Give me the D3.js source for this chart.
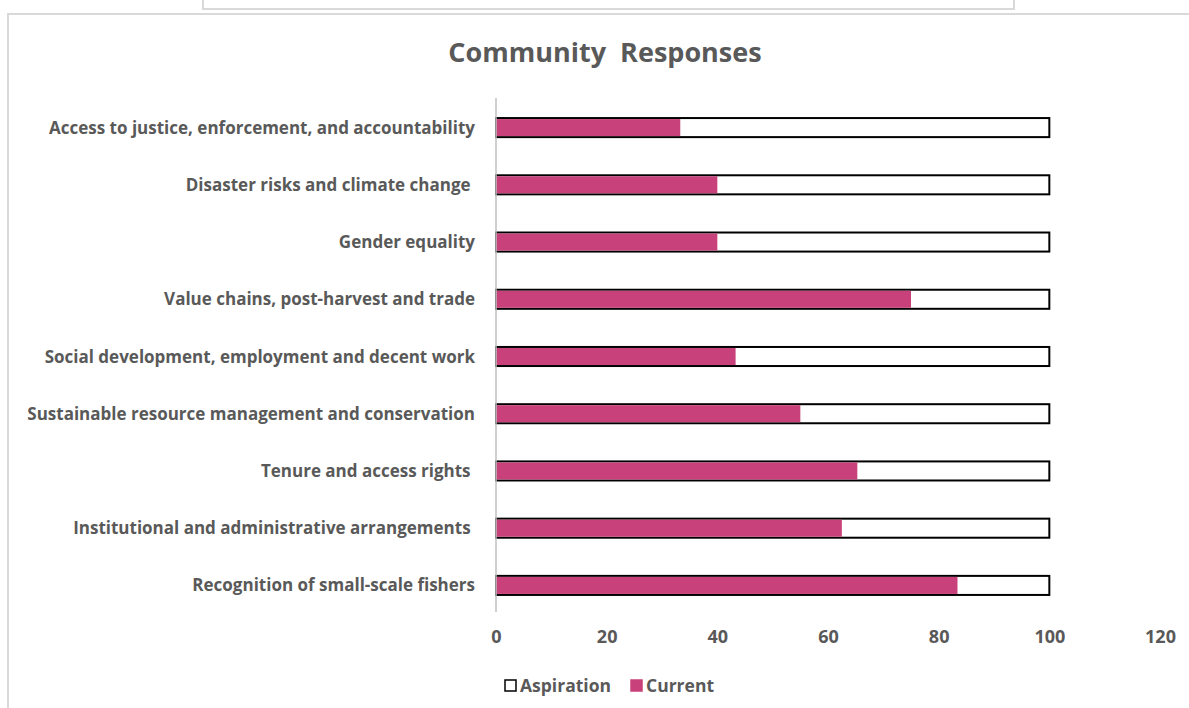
<!DOCTYPE html>
<html>
<head>
<meta charset="utf-8">
<script src="https://cdn.jsdelivr.net/npm/d3@7"></script>
<style>
  body { margin: 0; background: #fff; }
  svg text { font-family: "Open Sans", "Noto Sans", sans-serif; fill: #595959; white-space: pre; }
</style>
</head>
<body>
<svg id="chart" width="1189" height="708"></svg>
<script>
// categories, top to bottom
const categories = [
  "Access to justice, enforcement, and accountability",
  "Disaster risks and climate change ",
  "Gender equality",
  "Value chains, post-harvest and trade",
  "Social development, employment and decent work",
  "Sustainable resource management and conservation",
  "Tenure and access rights ",
  "Institutional and administrative arrangements ",
  "Recognition of small-scale fishers"
];
const aspiration = [100, 100, 100, 100, 100, 100, 100, 100, 100];
const current = [33.3, 40, 40, 75, 43.3, 55, 65.3, 62.5, 83.4];
const xTicks = [0, 20, 40, 60, 80, 100, 120];

const PINK = "#c9417a";
const svg = d3.select("#chart");

// frames (the screenshot shows a box above and the chart border)
svg.append("rect").attr("x", 203).attr("y", -10).attr("width", 811).attr("height", 19)
  .attr("fill", "none").attr("stroke", "#d9d9d9").attr("stroke-width", 2);
svg.append("rect").attr("x", 8).attr("y", 14).attr("width", 1200).attr("height", 720)
  .attr("fill", "none").attr("stroke", "#d9d9d9").attr("stroke-width", 2);

const x = d3.scaleLinear().domain([0, 120]).range([496, 1160]);
const y = d3.scaleBand().domain(categories).range([99, 614]).paddingInner(0.667).paddingOuter(0.333);

svg.append("text").attr("x", 605).attr("y", 62).attr("text-anchor", "middle")
  .style("font-size", "27px").style("font-weight", "bold").text("Community  Responses");

// bars
const rows = svg.append("g");
rows.selectAll("rect.asp").data(categories).join("rect").attr("class", "asp")
  .attr("x", x(0)).attr("y", d => y(d))
  .attr("width", (d, i) => x(aspiration[i]) - x(0)).attr("height", y.bandwidth())
  .attr("fill", "#fff").attr("stroke", "#000").attr("stroke-width", 2);
rows.selectAll("rect.cur").data(categories).join("rect").attr("class", "cur")
  .attr("x", x(0)).attr("y", d => y(d) + 1)
  .attr("width", (d, i) => x(current[i]) - x(0)).attr("height", y.bandwidth() - 2)
  .attr("fill", PINK);

// vertical axis line
svg.append("line").attr("x1", 496).attr("x2", 496).attr("y1", 98).attr("y2", 612)
  .attr("stroke", "#bfbfbf").attr("stroke-width", 1.5);

// category labels
svg.append("g").selectAll("text").data(categories).join("text")
  .attr("x", 475).attr("y", d => y(d) + y.bandwidth() / 2 + 6)
  .attr("text-anchor", "end").style("font-size", "17px").style("font-weight", "bold")
  .text(d => d);

// x axis tick labels
const xAxis = d3.axisBottom(x).tickValues(xTicks).tickSize(0).tickPadding(0);
const gx = svg.append("g").attr("transform", "translate(0,630)").call(xAxis);
gx.select(".domain").remove();
gx.selectAll("text").style("font-size", "18px").style("font-weight", "bold")
  .style("font-family", "\"Open Sans\", sans-serif").attr("fill", "#595959");

// legend
const legend = [{name: "Aspiration", fill: "#fff", stroke: "#000"}, {name: "Current", fill: PINK, stroke: PINK}];
const lg = svg.append("g");
const lx = [505, 631];
legend.forEach((l, i) => {
  lg.append("rect").attr("x", lx[i]).attr("y", 680).attr("width", 11).attr("height", 11)
    .attr("fill", l.fill).attr("stroke", l.stroke).attr("stroke-width", 1.5);
  lg.append("text").attr("x", lx[i] + 15).attr("y", 692).style("font-size", "17.5px")
    .style("font-weight", "bold").text(l.name);
});
</script>
</body>
</html>
